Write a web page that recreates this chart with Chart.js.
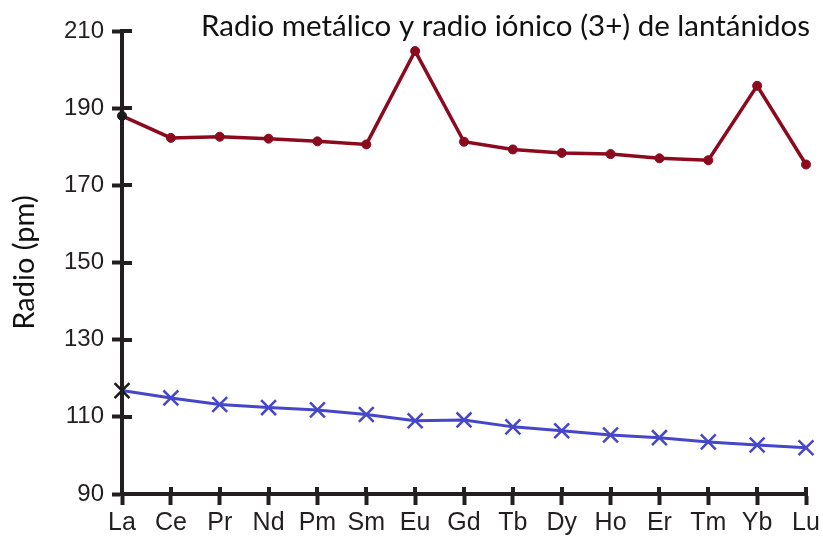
<!DOCTYPE html>
<html>
<head>
<meta charset="utf-8">
<script src="https://cdn.jsdelivr.net/npm/chart.js@4"></script>
<style>
  html, body { margin: 0; padding: 0; background: #ffffff; }
  #wrap { width: 823px; height: 538px; position: relative; }
</style>
</head>
<body>
<div id="wrap"><canvas id="c" width="823" height="538"></canvas></div>
<script>
// ---- data ----
const elements = ['La','Ce','Pr','Nd','Pm','Sm','Eu','Gd','Tb','Dy','Ho','Er','Tm','Yb','Lu'];
const metallicRadius = [188.0, 182.3, 182.6, 182.1, 181.4, 180.6, 204.8, 181.3, 179.3, 178.4, 178.1, 177.0, 176.5, 195.8, 175.4];
const ionicRadius    = [116.8, 114.9, 113.2, 112.4, 111.8, 110.6, 109.0, 109.2, 107.4, 106.4, 105.3, 104.6, 103.5, 102.7, 102.0];
const yTicks = [90, 110, 130, 150, 170, 190, 210];
const chartTitle = 'Radio metálico y radio iónico (3+) de lantánidos';
const yAxisTitle = 'Radio (pm)';

const AXIS = '#231f20';
const RED = '#8b0a1e';
const BLUE = '#4646c8';

const redPointColors = elements.map((e, i) => i === 0 ? '#1a1a1a' : RED);
const bluePointColors = elements.map((e, i) => i === 0 ? '#1a1a1a' : BLUE);

const innerTicks = {
  id: 'innerTicks',
  beforeDatasetsDraw(chart) {
    const ctx = chart.ctx;
    const xs = chart.scales.x, ys = chart.scales.y;
    const area = chart.chartArea;
    ctx.save();
    ctx.strokeStyle = AXIS;
    ctx.lineWidth = 4;
    ctx.lineCap = 'butt';
    yTicks.forEach(v => {
      const y = Math.round(ys.getPixelForValue(v));
      ctx.beginPath();
      ctx.moveTo(area.left - 2, y);
      ctx.lineTo(area.left + 10, y);
      ctx.stroke();
    });
    elements.forEach((e, i) => {
      const x = Math.round(xs.getPixelForValue(i));
      ctx.beginPath();
      ctx.moveTo(x, area.bottom + 2);
      ctx.lineTo(x, area.bottom - 7);
      ctx.stroke();
    });
    ctx.restore();
  },
  afterDraw(chart) {
    const ctx = chart.ctx;
    ctx.save();
    ctx.fillStyle = '#111111';
    ctx.font = '29.5px Lato';
    ctx.textAlign = 'right';
    ctx.textBaseline = 'alphabetic';
    ctx.fillText(chartTitle, 810, 36);
    ctx.restore();
  }
};

new Chart(document.getElementById('c'), {
  type: 'line',
  data: {
    labels: elements,
    datasets: [
      {
        label: 'Radio metálico',
        data: metallicRadius,
        borderColor: RED,
        borderWidth: 3.5,
        pointStyle: 'circle',
        pointRadius: 4.5,
        pointBackgroundColor: redPointColors,
        pointBorderColor: redPointColors,
        pointBorderWidth: 1,
        tension: 0,
        clip: false
      },
      {
        label: 'Radio iónico (3+)',
        data: ionicRadius,
        borderColor: BLUE,
        borderWidth: 3,
        pointStyle: 'crossRot',
        pointRadius: 10.5,
        pointBackgroundColor: bluePointColors,
        pointBorderColor: bluePointColors,
        pointBorderWidth: 2.5,
        tension: 0,
        clip: false
      }
    ]
  },
  options: {
    responsive: false,
    animation: false,
    devicePixelRatio: 1,
    layout: { padding: { top: 31, right: 17, left: 0, bottom: 0 } },
    plugins: {
      legend: { display: false },
      tooltip: { enabled: false },
      title: { display: false }
    },
    scales: {
      x: {
        type: 'category',
        offset: false,
        afterFit(scale) { scale.height = 44; },
        border: { display: true, color: AXIS, width: 4 },
        grid: {
          display: true,
          drawOnChartArea: false,
          drawTicks: true,
          tickLength: 11,
          tickColor: AXIS,
          tickWidth: 4,
          color: AXIS
        },
        ticks: {
          color: AXIS,
          font: { family: 'Liberation Sans', size: 25 },
          padding: 3,
          maxRotation: 0,
          autoSkip: false
        }
      },
      y: {
        min: 90,
        max: 210,
        afterFit(scale) { scale.width = 122; },
        afterBuildTicks(scale) { scale.ticks = yTicks.map(v => ({ value: v })); },
        border: { display: true, color: AXIS, width: 4 },
        grid: {
          display: true,
          drawOnChartArea: false,
          drawTicks: true,
          tickLength: 10,
          tickColor: AXIS,
          tickWidth: 4,
          color: AXIS
        },
        ticks: {
          color: AXIS,
          font: { family: 'Liberation Sans', size: 24 },
          padding: 8
        },
        title: {
          display: true,
          text: yAxisTitle,
          color: '#111111',
          font: { family: 'Lato', size: 29 },
          padding: { top: 7, bottom: 0 }
        }
      }
    }
  },
  plugins: [innerTicks]
});
</script>
</body>
</html>
